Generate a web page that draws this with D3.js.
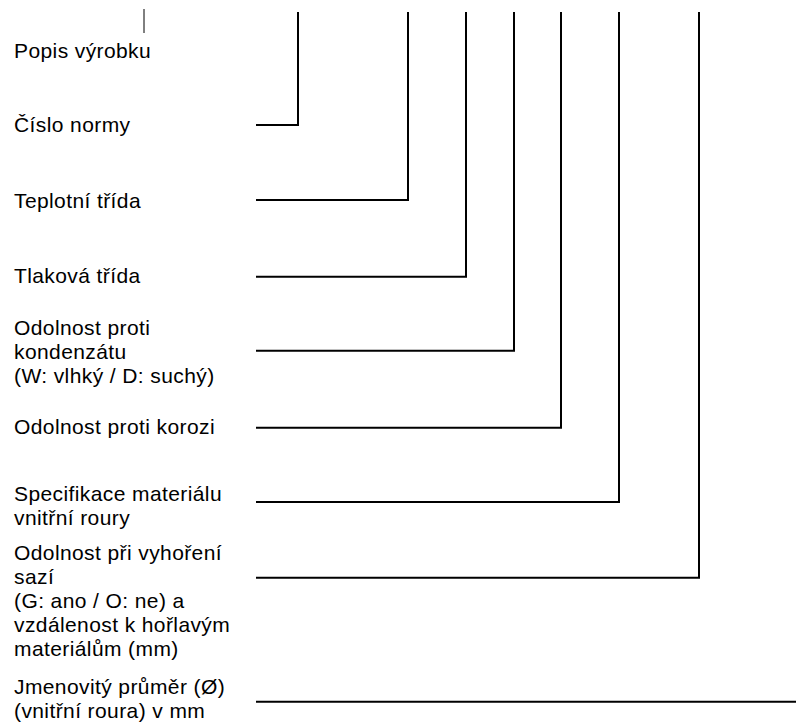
<!DOCTYPE html>
<html>
<head>
<meta charset="utf-8">
<script src="https://cdn.jsdelivr.net/npm/d3@7"></script>
<style>
  html, body { margin: 0; padding: 0; background: #fff; }
  svg { display: block; }
  text { font-family: Arial, "Liberation Sans", sans-serif; font-size: 21px; fill: #000; }
</style>
</head>
<body>
<svg id="chart" width="796" height="724"></svg>
<script>
// Label texts (one entry per field, lines split)
const labels = [
  ["Popis výrobku"],
  ["Číslo normy"],
  ["Teplotní třída"],
  ["Tlaková třída"],
  ["Odolnost proti", "kondenzátu", "(W: vlhký / D: suchý)"],
  ["Odolnost proti korozi"],
  ["Specifikace materiálu", "vnitřní roury"],
  ["Odolnost při vyhoření", "sazí", "(G: ano / O: ne) a", "vzdálenost k hořlavým", "materiálům (mm)"],
  ["Jmenovitý průměr (Ø)", "(vnitřní roura) v mm"]
];
// Column order of each field's leader (left to right); null = none, "end" = runs to right edge
const leaderColumn = [null, 0, 1, 2, 3, 4, 5, 6, "end"];
const columnCount = 7;

const svg = d3.select("#chart");
const W = 796;

// Layout
const textX = 14;
const lineStartX = 256;
const topY = 12;
const lineH = 24;
const firstBaseline = [58, 132, 208, 283, 335, 434, 501, 560, 694];
const leaderY = [null, 125, 200, 276.7, 350.7, 427.7, 502, 577.7, 701.7];
const colX = d3.scaleOrdinal().domain(d3.range(columnCount)).range([298, 408, 466, 514, 561, 619, 699]);

labels.forEach((lines, i) => {
  const g = svg.append("g");
  lines.forEach((ln, j) => {
    g.append("text")
      .attr("x", textX)
      .attr("y", firstBaseline[i] + j * lineH)
      .attr("letter-spacing", "0.4px")
      .text(ln);
  });
  const col = leaderColumn[i];
  if (col === null) return;
  const y = leaderY[i];
  if (col === "end") {
    svg.append("line").attr("x1", lineStartX).attr("x2", W).attr("y1", y).attr("y2", y)
      .attr("stroke", "#000").attr("stroke-width", 2);
  } else {
    const x = colX(col);
    svg.append("path")
      .attr("d", d3.line()([[lineStartX, y], [x, y], [x, topY]]))
      .attr("fill", "none").attr("stroke", "#000").attr("stroke-width", 2)
      .attr("stroke-linejoin", "miter");
  }
});

// small marker above "Popis výrobku"
svg.append("line").attr("x1", 144).attr("x2", 144).attr("y1", 9).attr("y2", 33)
  .attr("stroke", "#000").attr("stroke-width", 1);
</script>
</body>
</html>
